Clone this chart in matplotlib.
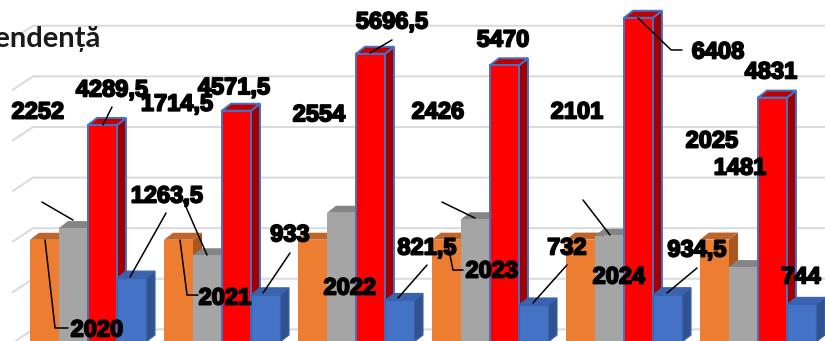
import numpy as np
import matplotlib
matplotlib.use("Agg")
import matplotlib.pyplot as plt
from matplotlib.patches import Polygon
import matplotlib.patheffects as pe

# ---------------- data ----------------
years = ["2020", "2021", "2022", "2023", "2024", "2025"]
vals_year = [2020, 2021, 2022, 2023, 2024, 2025]          # orange series (value = year)
vals_gray = [2252, 1714.5, 2554, 2426, 2101, 1481]
vals_red = [4289.5, 4571.5, 5696.5, 5470, 6408, 4831]
vals_blue = [1263.5, 933, 821.5, 732, 934.5, 744]
title_text = "Tendență"

# ---------------- style ----------------
series = [vals_year, vals_gray, vals_red, vals_blue]
front_c = ["#ED7D31", "#A5A5A5", "#FF0000", "#4472C4"]
top_c = ["#C0652A", "#858585", "#C00000", "#3A62AE"]
side_c = ["#A9561F", "#7A7A7A", "#A00000", "#2F5290"]
edge_c = ["none", "none", "#4472C4", "#3A62AE"]
edge_w = [0, 0, 1.4, 0.8]

# label offsets (pixels, x right / y down) relative to bar-top anchor
lab_off = [
    [(48.5, 93.2), (42.5, 61.3), (33.5, 51.3), (41.5, 34.4), (34.5, 40.4), (-6.5, -95.5)],
    [(-39.5, -113), (-34.5, -148), (-26.5, -95), (-41.5, -104.2), (-36.5, -120.7), (-7.5, -96)],
    [(5.5, -32), (-6.5, -20), (17.5, -28.8), (-5.5, -22.2), (75.5, 37.2), (-5.5, -22.6)],
    [(31.5, -79), (20.5, -57), (23.5, -49.4), (29.5, -54), (25.5, -41.7), (-4.5, -24.4)],
]
# leader lines: (series, group): (start, end, angleB or None)
leaders = {
    (0, 0): ((19.5, 91.2), (-3.5, 3.2), -83.5),
    (0, 1): ((15.5, 58.3), (-2.5, 3.3), -82.7),
    (0, 3): ((12.5, 33.4), (-2.5, 8.4), -78.7),
    (1, 0): ((-35.5, -23), (-4.5, -5), None),
    (1, 1): ((-28.5, -52.2), (-4.5, 2.8), None),
    (1, 3): ((-37.5, -14.2), (-4.5, 1.8), None),
    (1, 4): ((-30.5, -32.7), (-3.5, 2.3), None),
    (2, 0): ((5.5, -15), (-3.5, 3), None),
    (2, 2): ((17.5, -10.8), (-4.5, 2.2), None),
    (2, 4): ((39.5, 35.2), (-4.5, 3.2), -44),
    (3, 0): ((30.5, -62), (-5.5, 2), None),
    (3, 1): ((20.5, -38.8), (-6.5, 1.2), None),
    (3, 2): ((23.5, -32.4), (-5.5, 0.6), None),
    (3, 3): ((29.5, -37), (-4.5, 1), None),
    (3, 4): ((25.5, -23.7), (-4.5, 1.3), None),
}

W, H = 825, 341
fig = plt.figure(figsize=(W / 100, H / 100), dpi=100)
ax = fig.add_axes([0, 0, 1, 1])
ax.axis("off")
x0, x1 = -0.6567, 5.5
y0, y1 = 20, 6759
ax.set_xlim(x0, x1)
ax.set_ylim(y0, y1)

px_x = W / (x1 - x0)          # pixels per x unit
px_y = H / (y1 - y0)          # pixels per y unit
bw = 29 / px_x
ddx = 9 / px_x
ddy = 7 / px_y

# back-wall gridlines
wall_off = 250
for g in np.arange(0, 7000, 1000) + wall_off:
    ax.plot([(12 - 88) / px_x, (33 - 88) / px_x, x1], [g - 14 / px_y, g, g],
            color="#D9D9D9", lw=1.4, zorder=1, solid_capstyle="butt")

idx = np.arange(len(years))
for j, vals in enumerate(series):
    xs = idx + (j - 1.5) * bw
    for x, v in zip(xs, vals):
        r = x + bw / 2
        l = x - bw / 2
        side = Polygon([(r, 0), (r + ddx, ddy), (r + ddx, v + ddy), (r, v)], closed=True,
                       fc=side_c[j], ec=edge_c[j], lw=edge_w[j], zorder=2 + 2 * j)
        top = Polygon([(l, v), (r, v), (r + ddx, v + ddy), (l + ddx, v + ddy)], closed=True,
                      fc=top_c[j], ec=edge_c[j], lw=edge_w[j], zorder=2 + 2 * j)
        ax.add_patch(side)
        ax.add_patch(top)
    ax.bar(xs, vals, width=bw, color=front_c[j], edgecolor=edge_c[j], linewidth=edge_w[j],
           zorder=3 + 2 * j)


def fmt(v):
    return ("%g" % v).replace(".", ",")


fig.canvas.draw()
for j, vals in enumerate(series):
    xs = idx + (j - 1.5) * bw
    for g, (x, v) in enumerate(zip(xs, vals)):
        ax_, ay_ = ax.transData.transform((x, v))
        ax_ += 4
        ay_ += 3
        dx, dy = lab_off[j][g]
        txt = years[g] if j == 0 else fmt(v)
        ax.annotate(txt, xy=(ax_ + dx, ay_ - dy), xycoords="figure pixels",
                    ha="center", va="center", fontsize=17, fontweight="bold",
                    family="Liberation Sans", color="black", zorder=20,
                    path_effects=[pe.withStroke(linewidth=1.3, foreground="black")])
        if (j, g) in leaders:
            (sx, sy), (ex, ey), angB = leaders[(j, g)]
            cs = "arc3" if angB is None else "angle,angleA=0,angleB=%g,rad=0" % angB
            ax.annotate("", xy=(ax_ + ex, ay_ - ey), xycoords="figure pixels",
                        xytext=(ax_ + sx, ay_ - sy), textcoords="figure pixels",
                        arrowprops=dict(arrowstyle="-", color="black", lw=1.1,
                                        shrinkA=0, shrinkB=0, connectionstyle=cs),
                        zorder=19)

# title (partially cropped at the left edge, as in the reference)
fig.text(101 / W, 1 - 47 / H, title_text, ha="right", va="baseline",
         fontsize=21, fontweight="bold", family="Lato", color="#1a1a1a")

fig.savefig("out.png", dpi=100)
